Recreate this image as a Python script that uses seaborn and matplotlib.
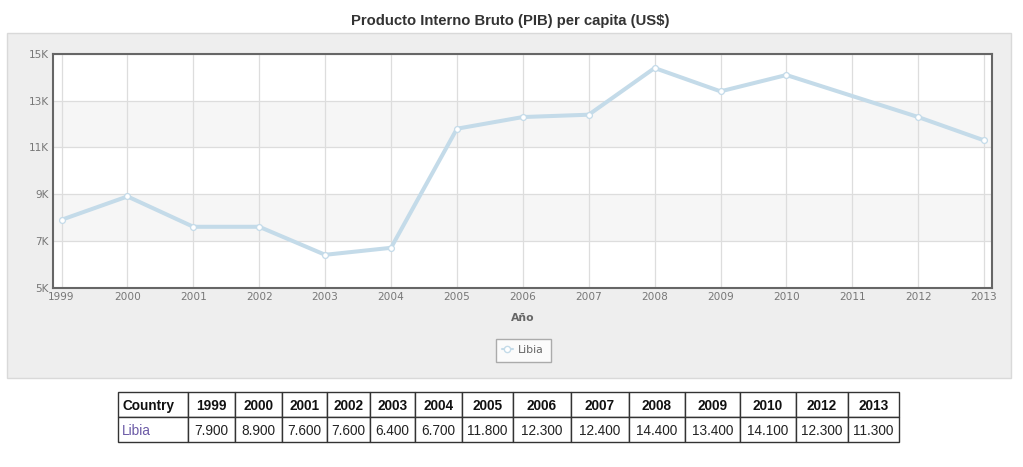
import matplotlib
matplotlib.use("Agg")
import matplotlib.pyplot as plt
import seaborn as sns
import pandas as pd
from matplotlib.patches import Rectangle
from matplotlib.lines import Line2D

years = [1999, 2000, 2001, 2002, 2003, 2004, 2005, 2006, 2007, 2008, 2009, 2010, 2012, 2013]
values = [7900, 8900, 7600, 7600, 6400, 6700, 11800, 12300, 12400, 14400, 13400, 14100, 12300, 11300]
series_name = "Libia"
title = "Producto Interno Bruto (PIB) per capita (US$)"
x_ticks = list(range(1999, 2014))
y_ticks = [5000, 7000, 9000, 11000, 13000, 15000]
y_labels = ["5K", "7K", "9K", "11K", "13K", "15K"]

sns.set_theme(style="white")
plt.rcParams['font.family'] = ['DejaVu Sans']

W, H = 1023, 467
fig = plt.figure(figsize=(W / 100, H / 100), dpi=100)
fig.patch.set_facecolor("white")

def fx(x):
    return x / W

def fy(y):
    return 1 - y / H

# panel background
bg = fig.add_axes([0, 0, 1, 1], zorder=-5)
bg.axis("off")
bg.set_xlim(0, 1)
bg.set_ylim(0, 1)
bg.add_patch(Rectangle((fx(7), fy(378)), fx(1011) - fx(7), fy(33) - fy(378),
                       facecolor="#eeeeee", edgecolor="#d9d9d9", linewidth=1))

fig.text(fx(510), fy(21), title, ha="center", va="center",
         fontsize=10.7, fontweight="bold", color="#333333",
         family=["Liberation Sans"])

ax = fig.add_axes([fx(53), fy(287.5), fx(992) - fx(53), fy(54) - fy(287.5)], zorder=2)
ax.set_facecolor("white")

# alternate bands
for lo, hi in [(7000, 9000), (11000, 13000)]:
    ax.axhspan(lo, hi, color="#f6f6f6", zorder=0, lw=0)

df = pd.DataFrame({"year": years, "value": values})
sns.lineplot(data=df, x="year", y="value", ax=ax, color="#c4dbe9", linewidth=2.9,
             marker="o", markersize=4.2, markerfacecolor="white",
             markeredgecolor="#c4dbe9", markeredgewidth=0.9, zorder=3)

ax.set_xlim(1998.87, 2013.12)
ax.set_ylim(5000, 15000)
ax.set_xticks(x_ticks)
ax.set_xticklabels([str(x) for x in x_ticks])
ax.set_yticks(y_ticks)
ax.set_yticklabels(y_labels)
ax.grid(True, color="#dddddd", linewidth=0.9, zorder=1)
ax.set_axisbelow(True)
ax.tick_params(axis="both", labelsize=7.6, colors="#777777", length=0, pad=3)
for lab in ax.get_xticklabels() + ax.get_yticklabels():
    lab.set_color("#777777")
ax.set_xlabel("")
ax.set_ylabel("")
for s in ax.spines.values():
    s.set_color("#666666")
    s.set_linewidth(1.5)

fig.text(fx(523), fy(318), "Año", ha="center", va="center", fontsize=7.8,
         fontweight="bold", color="#666666")

# legend
leg = ax.legend(handles=[Line2D([], [], color="#c4dbe9", linewidth=1.5, marker="o",
                                markersize=4.5, markerfacecolor="white",
                                markeredgecolor="#c4dbe9")],
                labels=[series_name], loc="center",
                bbox_to_anchor=(fx(523), fy(350)), bbox_transform=fig.transFigure,
                fontsize=7.8, frameon=True, fancybox=False, handlelength=1.0,
                handletextpad=0.5, borderpad=0.6)
leg.get_frame().set_edgecolor("#999999")
leg.get_frame().set_linewidth(1.0)
for t in leg.get_texts():
    t.set_color("#666666")

# data table
tax = fig.add_axes([fx(118), fy(442), fx(899) - fx(118), fy(392) - fy(442)], zorder=3)
tax.axis("off")
col_edges = [118, 188, 235, 282, 327, 370, 415, 462, 513, 571, 629, 685, 740, 796, 848, 899]
widths = [b - a for a, b in zip(col_edges[:-1], col_edges[1:])]
total = sum(widths)
header = ["Country"] + [str(y) for y in years]
row = [series_name] + [f"{v/1000:.3f}" for v in values]
tbl = tax.table(cellText=[header, row], cellLoc="center", bbox=[0, 0, 1, 1],
                colWidths=[w / total for w in widths])
tbl.auto_set_font_size(False)
for (r, c), cell in tbl.get_celld().items():
    cell.set_edgecolor("#333333")
    cell.set_linewidth(1.0)
    cell.set_facecolor("white")
    txt = cell.get_text()
    txt.set_fontsize(9.8)
    txt.set_family(["Liberation Sans"])
    txt.set_va("center_baseline")
    if r == 0:
        txt.set_fontweight("bold")
        txt.set_color("#111111")
    else:
        txt.set_color("#222222")
    if c == 0:
        cell._loc = "left"
        cell.PAD = 0.06
        txt.set_ha("left")
        if r == 1:
            txt.set_color("#6b5aa6")

fig.savefig("out.png", dpi=100, facecolor="white")
